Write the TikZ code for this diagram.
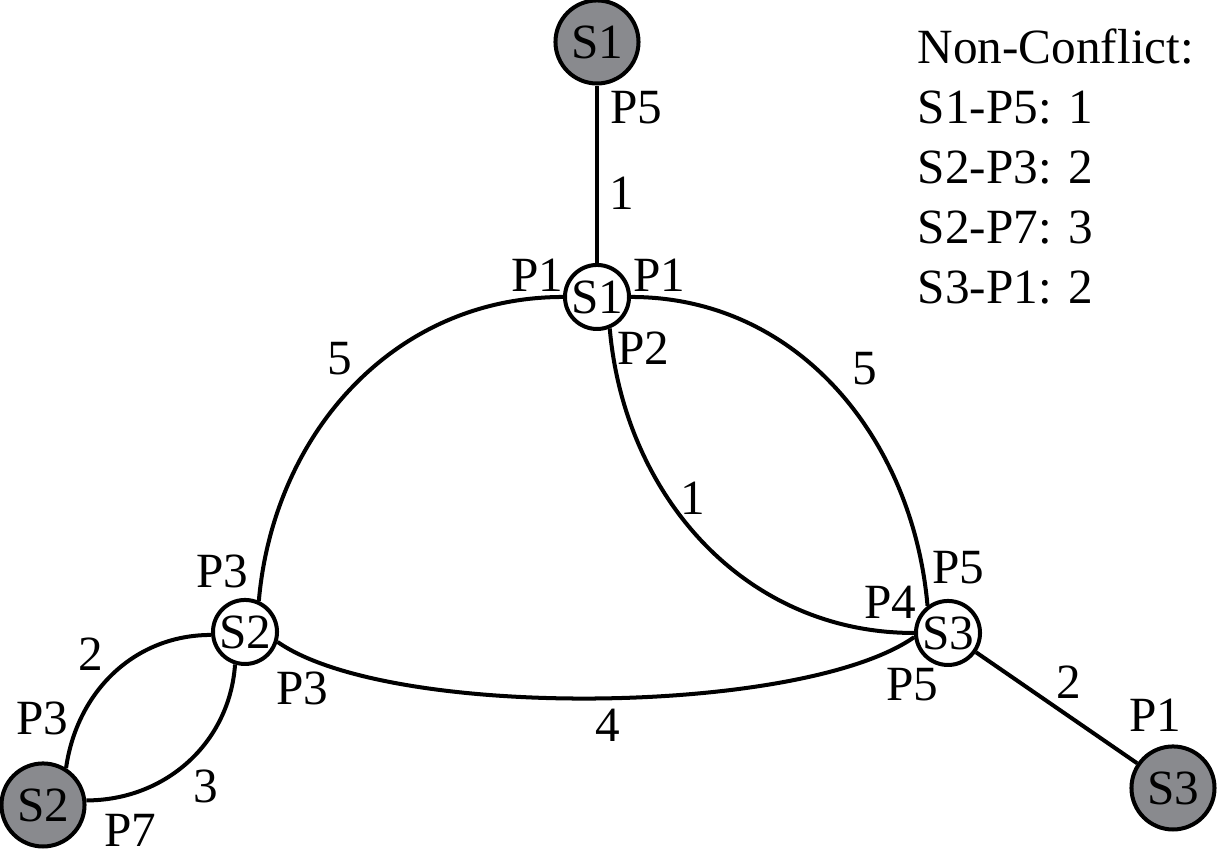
\documentclass[tikz,border=0pt]{standalone}
\usepackage{fontspec}
\setmainfont{Liberation Serif}
\definecolor{hostgray}{RGB}{137,138,142}
\tikzset{
  switch/.style={circle, draw, line width=1.14pt, fill=white, minimum size=0.64cm, inner sep=0pt},
  host/.style={circle, draw, line width=1.14pt, fill=hostgray, minimum size=0.83cm, inner sep=0pt},
  link/.style={line width=1.14pt},
  lbl/.style={inner sep=0pt}
}
\begin{document}
\begin{tikzpicture}[x=0.01cm, y=0.01cm, font=\fontsize{14}{17}\selectfont]
            \useasboundingbox (0,0) rectangle (1217,862);

            % switches and hosts
            \node[switch] (s1) at (597,565) {S1};
            \node[switch] (s2) at (245,230) {S2};
            \node[switch] (s3) at (948,229) {S3};
            \node[host] (h1) at (597,820) {S1};
            \node[host] (h2) at (43,57) {S2};
            \node[host] (h3) at (1173,74) {S3};

            % links
            \draw[link] (h1) -- (s1);
            \draw[link] (s1.west) to[out=180,in=85] (s2.66);
            \draw[link] (s1.east) to[out=0,in=95] (s3.127);
            \draw[link] (s1.-68) to[out=-85,in=180] (s3.west);
            \draw[link] (s2.-17) to[out=-35,in=215,looseness=0.55] (s3.187);
            \draw[link] (s2.185) to[out=180,in=82] (h2.58);
            \draw[link] (s2.-107) to[out=-94,in=0] (h2.6);
            \draw[link] (s3) -- (h3);

            % weights
            \node[lbl] (w-h1) at (622,669) {1};
            \node[lbl] (w-s1s2) at (340,503) {5};
            \node[lbl] (w-s1s3) at (865,493) {5};
            \node[lbl] (w-inner) at (693,364) {1};
            \node[lbl] (w-s2s3) at (608,137) {4};
            \node[lbl] (w-h3) at (1069,180) {2};
            \node[lbl] (w-h2a) at (91,208) {2};
            \node[lbl] (w-h2b) at (206,76) {3};

            % ports
            \node[lbl] (p-h1) at (636,754) {P5};
            \node[lbl] (p-s1a) at (537,587) {P1};
            \node[lbl] (p-s1b) at (659,587) {P1};
            \node[lbl] (p-s1c) at (643,514) {P2};
            \node[lbl] (p-s2a) at (222,291) {P3};
            \node[lbl] (p-s2b) at (302,174) {P3};
            \node[lbl] (p-s3a) at (958,294) {P5};
            \node[lbl] (p-s3b) at (890,260) {P4};
            \node[lbl] (p-s3c) at (912,177) {P5};
            \node[lbl] (p-h3) at (1155,147) {P1};
            \node[lbl] (p-h2a) at (42,144) {P3};
            \node[lbl] (p-h2b) at (130,32) {P7};

            % legend
            \foreach \txt [count=\i from 0] in {Non-Conflict:, S1-P5: 1, S2-P3: 2, S2-P7: 3, S3-P1: 2}
                \node[lbl, anchor=base west] (legend\i) at (917,{798-60*\i}) {\txt};
        \end{tikzpicture}
\end{document}
